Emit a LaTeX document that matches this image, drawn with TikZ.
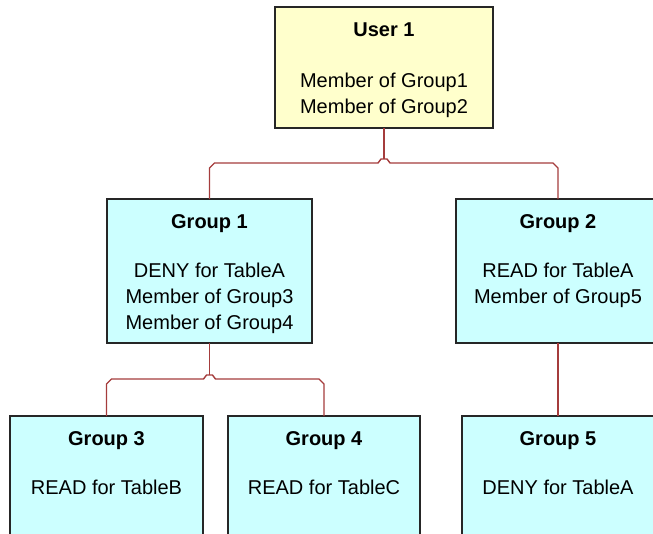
\documentclass[tikz,border=0pt]{standalone}
\usepackage{fontspec}
\setmainfont{Liberation Sans}
\begin{document}
\begin{tikzpicture}[x=1pt,y=-1pt,
  boxbase/.style={draw=black!85,line width=1.5pt,inner sep=0pt,outer sep=0pt,anchor=north west},
  userbox/.style={boxbase,fill={rgb,255:red,255;green,255;blue,204}},
  grpbox/.style={boxbase,fill={rgb,255:red,204;green,255;blue,255}},
  titletext/.style={anchor=north,inner sep=0pt,font=\fontsize{20}{26}\selectfont\bfseries},
  bodytext/.style={anchor=north,inner sep=0pt,align=center,font=\fontsize{20}{26}\selectfont},
  conn/.style={draw={rgb,255:red,165;green,60;blue,60},line width=1.4pt}]
\useasboundingbox (0,0) rectangle (653,533);
\clip (0,0) rectangle (653,533);
% boxes
\node[userbox,minimum width=218pt,minimum height=121pt] (u) at (275,7) {};
\node[grpbox,minimum width=205pt,minimum height=144pt] (g1) at (107,199) {};
\node[grpbox,minimum width=204pt,minimum height=144pt] (g2) at (456,199) {};
\node[grpbox,minimum width=193pt,minimum height=150pt] (g3) at (10,416) {};
\node[grpbox,minimum width=192pt,minimum height=150pt] (g4) at (228,416) {};
\node[grpbox,minimum width=192pt,minimum height=150pt] (g5) at (462,416) {};
% texts
\node[titletext] (ut) at ([yshift=-15.5pt]u.north) {User 1};
\node[bodytext] (ub) at ([yshift=-65.5pt]u.north) {Member of Group1\\Member of Group2};
\node[titletext] (g1t) at ([yshift=-15.5pt]g1.north) {Group 1};
\node[bodytext] (g1b) at ([yshift=-63.5pt]g1.north) {DENY for TableA\\Member of Group3\\Member of Group4};
\node[titletext] (g2t) at ([yshift=-15.5pt]g2.north) {Group 2};
\node[bodytext] (g2b) at ([yshift=-63.5pt]g2.north) {READ for TableA\\Member of Group5};
\node[titletext] (g3t) at ([yshift=-15pt]g3.north) {Group 3};
\node[bodytext] (g3b) at ([yshift=-63.5pt]g3.north) {READ for TableB};
\node[titletext] (g4t) at ([yshift=-15pt]g4.north) {Group 4};
\node[bodytext] (g4b) at ([yshift=-63.5pt]g4.north) {READ for TableC};
\node[titletext] (g5t) at ([yshift=-15pt]g5.north) {Group 5};
\node[bodytext] (g5b) at ([yshift=-63.5pt]g5.north) {DENY for TableA};
% junction coordinates
\coordinate (j1) at (u.south |- 0,159);
\coordinate (j2) at (g1.south |- 0,375);
% connectors
\draw[conn] (u.south) -- (j1);
\draw[conn] (g1.north) -- ++(0,-31) -- ++(5,-5) -- ([xshift=-6pt,yshift=-4pt]j1) -- ++(3,-4) -- ++(6,0) -- ++(3,4) -- ([xshift=-5pt]g2.north |- 0,163) -- ++(5,5) -- (g2.north);
\draw[conn] (g1.south) -- (j2);
\draw[conn] (g3.north) -- ++(0,-32) -- ++(5,-5) -- ([xshift=-6pt,yshift=-4pt]j2) -- ++(3,-4) -- ++(6,0) -- ++(3,4) -- ([xshift=-5pt]g4.north |- 0,379) -- ++(5,5) -- (g4.north);
\draw[conn] (g2.south) -- (g5.north);
\end{tikzpicture}
\end{document}
